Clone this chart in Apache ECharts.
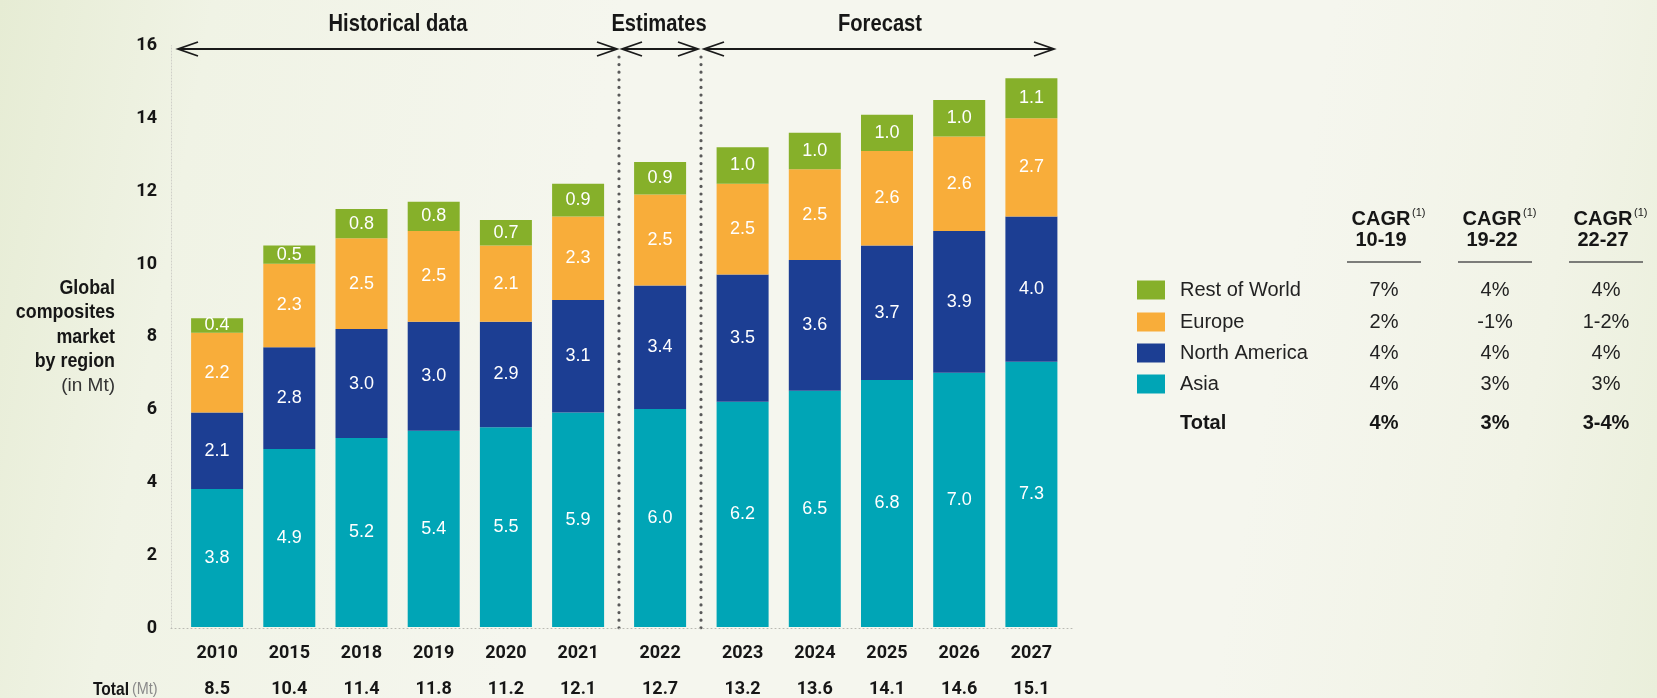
<!doctype html>
<html lang="en">
  <head>
    <meta charset="UTF-8" />
    <meta name="viewport" content="width=device-width, initial-scale=1.0" />
    <title>Global composites market by region</title>
    <style>
      html,
      body {
        margin: 0;
        padding: 0;
        width: 1657px;
        height: 698px;
        overflow: hidden;
      }
      body {
        background: linear-gradient(100deg, #e6ecd4 0%, #f0f3e5 12%, #f5f6ee 35%, #f5f6ee 75%, #f1f3e6 90%, #eaefdb 100%);
      }
      #chart1 {
        width: 1657px;
        height: 698px;
      }
    </style>
  </head>
  <body>
    <div id="chart1"></div>
    <script src="https://cdn.jsdelivr.net/npm/echarts@6/dist/echarts.min.js"></script>
    <script>
      // values (Mt)
      const years = ["2010", "2015", "2018", "2019", "2020", "2021", "2022", "2023", "2024", "2025", "2026", "2027"];
      const asia = [3.8, 4.9, 5.2, 5.4, 5.5, 5.9, 6.0, 6.2, 6.5, 6.8, 7.0, 7.3];
      const northAmerica = [2.1, 2.8, 3.0, 3.0, 2.9, 3.1, 3.4, 3.5, 3.6, 3.7, 3.9, 4.0];
      const europe = [2.2, 2.3, 2.5, 2.5, 2.1, 2.3, 2.5, 2.5, 2.5, 2.6, 2.6, 2.7];
      const restOfWorld = [0.4, 0.5, 0.8, 0.8, 0.7, 0.9, 0.9, 1.0, 1.0, 1.0, 1.0, 1.1];
      const totals = ["8.5", "10.4", "11.4", "11.8", "11.2", "12.1", "12.7", "13.2", "13.6", "14.1", "14.6", "15.1"];

      const phases = ["Historical data", "Estimates", "Forecast"];
      const phaseSizes = [6, 1, 5];

      const cagrPeriods = ["10-19", "19-22", "22-27"];
      const cagrRegions = ["Rest of World", "Europe", "North America", "Asia"];
      const cagrValues = [
        ["7%", "4%", "4%"],
        ["2%", "-1%", "1-2%"],
        ["4%", "4%", "4%"],
        ["4%", "3%", "3%"],
      ];
      const cagrTotal = ["4%", "3%", "3-4%"];

      const SANS = "'Liberation Sans', Arial, Helvetica, sans-serif";
      const TIGHT = "Roboto, 'Liberation Sans', sans-serif";
      const INK = "#161616";

      const colors = {
        Asia: "#00a5b6",
        "North America": "#1c3e93",
        Europe: "#f8ad3a",
        "Rest of World": "#86b02a",
      };
      const regions = [
        { name: "Asia", data: asia },
        { name: "North America", data: northAmerica },
        { name: "Europe", data: europe },
        { name: "Rest of World", data: restOfWorld },
      ];

      // layout
      const plotTop = 45.6;
      const plotBottom = 628;
      const slot = 72.2;
      const groupLeft = [181, 624, 706.5];
      const phaseCenters = [398, 659, 880];
      const arrowSpans = [
        [178, 617],
        [622, 698],
        [704, 1054],
      ];
      const separators = [619, 701];

      const grids = [{ left: 171, top: plotTop, width: 902, height: plotBottom - plotTop }];
      const xAxes = [
        {
          gridIndex: 0,
          type: "value",
          min: 0,
          max: 1,
          axisLine: { show: true, lineStyle: { color: "#b9b9b2", width: 1, type: [1, 3] } },
          axisTick: { show: false },
          axisLabel: { show: false },
          splitLine: { show: false },
        },
      ];
      const yAxes = [
        {
          gridIndex: 0,
          type: "value",
          min: 0,
          max: 16,
          interval: 2,
          axisLine: { show: true, lineStyle: { color: "#cfcfc8", width: 1, type: [1, 2] } },
          axisTick: { show: false },
          splitLine: { show: false },
          axisLabel: { margin: 14, fontFamily: TIGHT, fontWeight: "bold", fontSize: 18, color: INK },
        },
      ];
      const series = [];

      let start = 0;
      phaseSizes.forEach((n, i) => {
        const gi = i + 1;
        const from = start;
        start += n;
        const tot = totals.slice(from, from + n);
        grids.push({ left: groupLeft[i], top: plotTop, width: n * slot, height: plotBottom - plotTop });
        xAxes.push({
          gridIndex: gi,
          type: "category",
          data: years.slice(from, from + n),
          axisLine: { show: false },
          axisTick: { show: false },
          axisLabel: {
            interval: 0,
            margin: 15,
            formatter: (v, idx) => "{y|" + v + "}\n{t|" + tot[idx] + "}",
            rich: {
              y: { fontFamily: TIGHT, fontWeight: "bold", fontSize: 18, color: INK, lineHeight: 22 },
              t: { fontFamily: TIGHT, fontWeight: "bold", fontSize: 18, color: INK, lineHeight: 50 },
            },
          },
        });
        yAxes.push({ gridIndex: gi, type: "value", min: 0, max: 16, show: false });
        regions.forEach((r) => {
          series.push({
            name: r.name,
            type: "bar",
            stack: "s" + gi,
            xAxisIndex: gi,
            yAxisIndex: gi,
            barWidth: 52,
            data: r.data.slice(from, from + n),
            itemStyle: { color: colors[r.name] },
            label: {
              show: true,
              position: "inside",
              color: "#fff",
              fontFamily: SANS,
              fontSize: 18,
              formatter: (p) => p.value.toFixed(1),
            },
          });
        });
      });

      // decorations: phase headers, arrows, separators, axis title, CAGR table
      const graphic = [];
      const text = (x, y, t, font, fill, align, squeeze) => ({
        type: "text",
        x: x,
        y: y,
        scaleX: squeeze || 1,
        silent: true,
        style: {
          text: t,
          font: font,
          fill: fill || INK,
          align: align || "left",
          verticalAlign: "middle",
          textAlign: align || "left",
          textVerticalAlign: "middle",
        },
      });
      const pen = { stroke: "#1a1a1a", lineWidth: 1.8, fill: null };

      phases.forEach((p, i) => {
        graphic.push(text(phaseCenters[i], 24, p, "bold 24px " + SANS, INK, "center", 0.84));
        const [x1, x2] = arrowSpans[i];
        const y = 49;
        graphic.push({ type: "line", silent: true, shape: { x1: x1, y1: y, x2: x2, y2: y }, style: pen });
        graphic.push({ type: "polyline", silent: true, shape: { points: [[x1 + 20, y - 7], [x1, y], [x1 + 20, y + 7]] }, style: pen });
        graphic.push({ type: "polyline", silent: true, shape: { points: [[x2 - 20, y - 7], [x2, y], [x2 - 20, y + 7]] }, style: pen });
      });

      separators.forEach((x) => {
        graphic.push({
          type: "line",
          silent: true,
          shape: { x1: x, y1: 57, x2: x, y2: plotBottom },
          style: { stroke: "#5a5a5a", lineWidth: 3.2, lineDash: [0.01, 7.6], lineCap: "round" },
        });
      });

      ["Global", "composites", "market", "by region"].forEach((t, i) => {
        graphic.push(text(115, 288 + i * 24.5, t, "bold 21px " + SANS, INK, "right", 0.85));
      });
      graphic.push(text(115, 386, "(in Mt)", "19px " + SANS, "#333", "right"));

      graphic.push(text(129, 690, "Total", "bold 19px " + SANS, INK, "right", 0.82));
      graphic.push(text(132, 690, "(Mt)", "16px " + SANS, "#8a8a8a", "left", 0.9));

      // CAGR table
      const colX = [1384, 1495, 1606];
      const rowY = [290, 322, 353, 384];
      cagrPeriods.forEach((p, c) => {
        graphic.push(text(colX[c] - 3, 219, "CAGR", "bold 20px " + SANS, INK, "center"));
        graphic.push(text(colX[c] + 28, 213, "(1)", "11px " + SANS, INK, "left"));
        graphic.push(text(colX[c] - 3, 240, p, "bold 20px " + SANS, INK, "center"));
        graphic.push({
          type: "line",
          silent: true,
          shape: { x1: colX[c] - 37, y1: 262, x2: colX[c] + 37, y2: 262 },
          style: { stroke: "#555", lineWidth: 1.5 },
        });
      });
      cagrRegions.forEach((r, i) => {
        graphic.push({
          type: "rect",
          silent: true,
          shape: { x: 1137, y: rowY[i] - 9.5, width: 28, height: 19 },
          style: { fill: colors[r] },
        });
        graphic.push(text(1180, rowY[i], r, "20px " + SANS, "#222", "left"));
        cagrValues[i].forEach((v, c) => {
          graphic.push(text(colX[c], rowY[i], v, "20px " + SANS, "#222", "center"));
        });
      });
      graphic.push(text(1180, 423, "Total", "bold 20px " + SANS, INK, "left"));
      cagrTotal.forEach((v, c) => {
        graphic.push(text(colX[c], 423, v, "bold 20px " + SANS, INK, "center"));
      });

      const myChart = echarts.init(document.getElementById("chart1"));
      myChart.setOption({
        animation: false,
        backgroundColor: "transparent",
        grid: grids,
        xAxis: xAxes,
        yAxis: yAxes,
        series: series,
        graphic: graphic,
      });
    </script>
  </body>
</html>
